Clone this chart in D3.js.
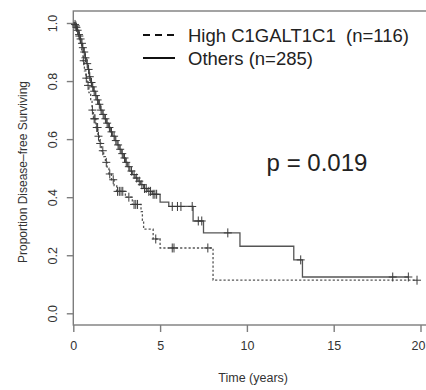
<!DOCTYPE html>
<head>
  <meta charset="utf-8">
  <script src="https://d3js.org/d3.v7.min.js"></script>
  <style>
    body { margin: 0; background: #fff; }
    svg { display: block; font-family: "Liberation Sans", Arial, sans-serif; }
    .tick text { fill: #333; }
  </style>
</head>
<body>
  <div id="chart"></div>
  <script>

  // step points of the Kaplan-Meier curves: time (years) and survival after the drop
  var othersTimes = [0.08,0.15,0.22,0.3,0.38,0.45,0.52,0.6,0.68,0.76,0.84,0.92,1.0,1.08,1.17,1.26,1.36,1.46,1.56,1.66,1.78,1.9,2.02,2.14,2.26,2.4,2.52,2.64,2.76,2.88,3.0,3.12,3.26,3.4,3.56,3.72,3.88,4.05,4.25,4.55,5.0,5.5,6.9,7.5,9.6,12.7,13.2],
      othersSurv  = [0.995,0.985,0.975,0.96,0.945,0.93,0.915,0.9,0.88,0.86,0.84,0.815,0.795,0.78,0.765,0.75,0.735,0.72,0.7,0.685,0.67,0.655,0.64,0.625,0.61,0.595,0.58,0.565,0.55,0.535,0.52,0.505,0.49,0.478,0.466,0.455,0.443,0.43,0.42,0.41,0.383,0.368,0.318,0.277,0.231,0.184,0.125],
      othersCensor = [0.1,0.18,0.25,0.33,0.42,0.5,0.55,0.63,0.7,0.8,0.88,0.95,1.05,1.12,1.2,1.3,1.4,1.5,1.6,1.72,1.85,1.95,2.08,2.2,2.35,2.45,2.58,2.7,2.82,2.95,3.05,3.2,3.35,3.5,3.65,3.8,3.95,4.1,4.2,4.35,4.45,4.6,4.7,4.8,5.7,6.0,6.2,6.85,7.2,7.4,8.9,13.1,18.4,19.3],
      othersEnd = 19.3;

  var highTimes = [0.1,0.2,0.3,0.4,0.48,0.56,0.64,0.72,0.8,0.9,1.0,1.08,1.16,1.3,1.42,1.5,1.62,1.75,1.85,1.95,2.05,2.2,2.35,2.5,3.0,3.4,3.9,3.98,4.05,4.6,5.0,8.05],
      highSurv  = [0.99,0.975,0.955,0.93,0.9,0.87,0.835,0.81,0.785,0.76,0.73,0.7,0.67,0.64,0.61,0.585,0.56,0.54,0.52,0.5,0.48,0.46,0.44,0.42,0.4,0.375,0.35,0.32,0.29,0.256,0.225,0.114],
      highCensor = [0.15,0.35,0.6,0.75,0.85,1.1,1.2,1.25,1.35,1.4,1.45,1.55,1.7,1.9,2.1,2.3,2.55,2.65,2.75,2.85,3.2,3.5,3.6,3.7,4.75,5.7,5.8,7.75,19.8],
      highEnd = 19.8;

  var xTicks = [0, 5, 10, 15, 20],
      yTicks = [0, 0.2, 0.4, 0.6, 0.8, 1.0];

  var legendLabels = ["High C1GALT1C1\u00a0\u00a0(n=116)", "Others (n=285)"],
      pLabel = "p = 0.019";

  var width = 426, height = 390;

  var svg = d3.select("#chart").append("svg")
      .attr("width", width)
      .attr("height", height);

  var x = d3.scaleLinear().domain([0, 20]).range([73.3, 420.5]);
  var y = d3.scaleLinear().domain([0, 1]).range([313.3, 23]);

  // plot box (right side runs off the picture)
  svg.append("rect")
      .attr("x", x(0))
      .attr("y", 11)
      .attr("width", 440 - x(0))
      .attr("height", 325 - 11)
      .style("fill", "none")
      .style("stroke", "#7d7d7d")
      .style("stroke-width", 1.4);

  var xAxis = svg.append("g")
      .attr("transform", "translate(0,325)")
      .call(d3.axisBottom(x).tickValues(xTicks).tickSize(7).tickPadding(9).tickFormat(d3.format("d")));
  xAxis.select(".domain").remove();
  xAxis.selectAll("line").style("stroke", "#7d7d7d").style("stroke-width", 1.4);
  xAxis.selectAll("text").style("font-size", "12.5px");
  // last label sits at the picture edge; keep it whole
  xAxis.selectAll("text").filter(function(d) { return d === 20; })
      .attr("x", 425 - x(20)).style("text-anchor", "end");

  var yAxis = svg.append("g")
      .attr("transform", "translate(" + x(0) + ",0)")
      .call(d3.axisLeft(y).tickValues(yTicks).tickSize(6.5).tickFormat(d3.format(".1f")));
  yAxis.select(".domain").remove();
  yAxis.selectAll("line").style("stroke", "#7d7d7d").style("stroke-width", 1.4);
  yAxis.selectAll("text")
      .attr("x", 0).attr("dy", 0)
      .attr("transform", "translate(-16,0) rotate(-90)")
      .style("text-anchor", "middle")
      .style("font-size", "12.5px");

  svg.append("text")
      .attr("x", (x(0) + 433) / 2)
      .attr("y", 382)
      .style("text-anchor", "middle")
      .style("font-size", "12.5px")
      .style("fill", "#333")
      .text("Time (years)");

  svg.append("text")
      .attr("transform", "translate(27,172) rotate(-90)")
      .style("text-anchor", "middle")
      .style("font-size", "12px")
      .style("fill", "#333")
      .text("Proportion Disease\u2013free Surviving");

  function steps(times, surv, end) {
    var pts = [[0, 1]];
    times.forEach(function(t, i) { pts.push([t, surv[i]]); });
    pts.push([end, surv[surv.length - 1]]);
    return pts;
  }

  function survAt(times, surv, t) {
    var i = d3.bisectRight(times, t);
    return i === 0 ? 1 : surv[i - 1];
  }

  var line = d3.line()
      .x(function(d) { return x(d[0]); })
      .y(function(d) { return y(d[1]); })
      .curve(d3.curveStepAfter);

  var curves = [
    {times: highTimes, surv: highSurv, censor: highCensor, end: highEnd, dash: "2.2,2"},
    {times: othersTimes, surv: othersSurv, censor: othersCensor, end: othersEnd, dash: null}
  ];

  curves.forEach(function(c) {
    svg.append("path")
        .datum(steps(c.times, c.surv, c.end))
        .attr("d", line)
        .style("fill", "none")
        .style("stroke", "#555")
        .style("stroke-width", 1.3)
        .style("stroke-dasharray", c.dash);

    svg.append("g").selectAll("path")
        .data(c.censor)
      .enter().append("path")
        .attr("d", function(t) {
          var cx = x(t), cy = y(survAt(c.times, c.surv, t));
          return "M" + (cx - 4) + "," + cy + "H" + (cx + 4) + "M" + cx + "," + (cy - 4.5) + "V" + (cy + 4.5);
        })
        .style("stroke", "#3a3a3a")
        .style("stroke-width", 1);
  });

  // legend
  var legend = svg.append("g");
  legendLabels.forEach(function(label, i) {
    var ly = 35 + i * 23;
    legend.append("line")
        .attr("x1", 143).attr("x2", 175)
        .attr("y1", ly).attr("y2", ly)
        .style("stroke", "#111")
        .style("stroke-width", 2)
        .style("stroke-dasharray", i === 0 ? "7,5" : null);
    legend.append("text")
        .attr("x", 188)
        .attr("y", ly + 6.5)
        .style("font-size", "18.5px")
        .style("fill", "#222")
        .text(label);
  });

  svg.append("text")
      .attr("x", 317)
      .attr("y", 171)
      .style("text-anchor", "middle")
      .style("font-size", "24px")
      .style("fill", "#222")
      .text(pLabel);

  </script>
</body>
